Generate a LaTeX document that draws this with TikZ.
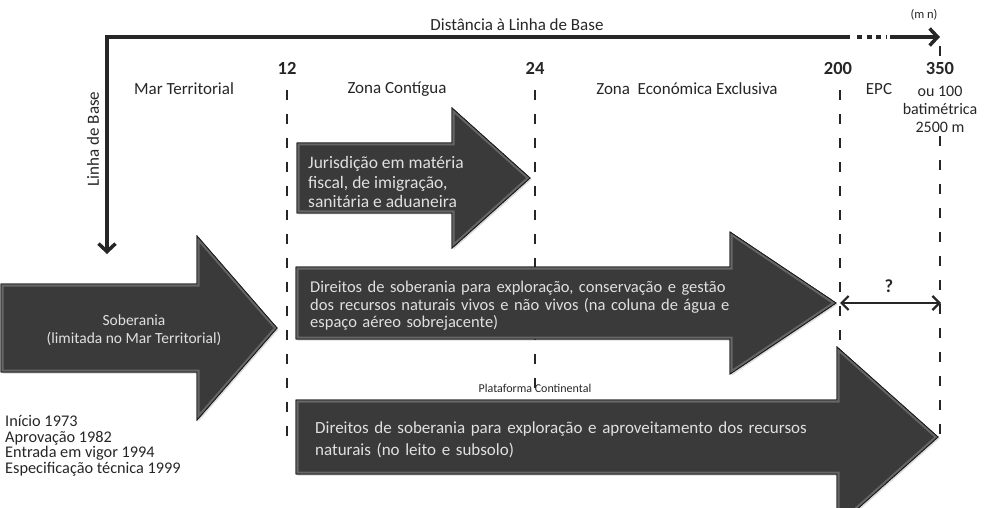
\documentclass[tikz,border=0pt]{standalone}
\usepackage{fontspec}
\setmainfont{Carlito}
\usepackage{tikz}
\usetikzlibrary{arrows.meta,shadows}
\definecolor{arrowfill}{HTML}{3A3A3A}
\colorlet{arrowband}{black!60}
\colorlet{arrowtextcolor}{white!88!black}
\colorlet{inkcolor}{black!85}
\setlength{\lineskiplimit}{-6pt}
\tikzstyle{bigarrow} = [
    fill=arrowfill,
    draw=black!90,
    line width=0.8pt,
    drop shadow={opacity=0.3, shadow xshift=1.5pt, shadow yshift=-1.5pt}
    ]
\tikzstyle{bevel} = [draw=arrowband, line width=5pt]
\tikzstyle{limit} = [draw=inkcolor, line width=2.6pt, dash pattern=on 10pt off 14pt]
\tikzstyle{baseaxis} = [draw=inkcolor, line width=3.5pt]
\tikzstyle{zone} = [font=\fontsize{17}{20}\selectfont, text=inkcolor, inner sep=0pt]
\tikzstyle{mile} = [font=\fontsize{18.5}{20}\selectfont\bfseries, text=inkcolor, inner sep=0pt]
\tikzstyle{inarrow} = [text=arrowtextcolor, inner sep=0pt, anchor=west]
\newcommand{\blockarrow}[6]{% left, head base, tip, middle, body half, head half
  \filldraw[bigarrow] (#1,#4-#5) -- (#2,#4-#5) -- (#2,#4-#6) -- (#3,#4) -- (#2,#4+#6) -- (#2,#4+#5) -- (#1,#4+#5) -- cycle;
  \begin{scope}
    \clip (#1,#4-#5) -- (#2,#4-#5) -- (#2,#4-#6) -- (#3,#4) -- (#2,#4+#6) -- (#2,#4+#5) -- (#1,#4+#5) -- cycle;
    \draw[bevel] (#1,#4-#5) -- (#2,#4-#5) -- (#2,#4-#6) -- (#3,#4) -- (#2,#4+#6) -- (#2,#4+#5) -- (#1,#4+#5) -- cycle;
  \end{scope}
  \draw[black!90, line width=0.8pt] (#1,#4-#5) -- (#2,#4-#5) -- (#2,#4-#6) -- (#3,#4) -- (#2,#4+#6) -- (#2,#4+#5) -- (#1,#4+#5) -- cycle;
}

\begin{document}
\begin{tikzpicture}[x=1pt, y=-1pt]
\useasboundingbox (0,0) rectangle (989,508);

% distance axis and base line
\coordinate (axisend) at (850,37);
\coordinate (origin) at (107,37);
\coordinate (baseline) at (107,254);
\coordinate (dotsA) at (857,37);
\coordinate (dotsB) at (886,37);
\coordinate (farA) at (890,37);
\coordinate (farB) at (940,37);
\draw[baseaxis, line join=miter, -{Straight Barb[length=8pt, width=17pt]}] (axisend) -- (origin) -- (baseline);
\draw[baseaxis, dash pattern=on 5pt off 4.5pt] (dotsA) -- (dotsB);
\draw[baseaxis, -{Straight Barb[length=8pt, width=17pt]}] (farA) -- (farB);
\node[zone] (dist) at (517,25) {Distância à Linha de Base};
\node[zone, font=\fontsize{12.5}{14}\selectfont] (mn) at (924,15) {(m n)};
\node[zone, rotate=90] (lbase) at (93,139) {Linha de Base};

% limits
\node[mile] (n12) at (287,68) {12};
\node[mile] (n24) at (535,68) {24};
\node[mile] (n200) at (838,68) {200};
\node[mile] (n350) at (940,68) {350};
\draw[limit] (287,90) -- (287,443);
\draw[limit] (535,90) -- (535,402);
\draw[limit] (840,90) -- (840,350);
\draw[limit] (940,136) -- (940,448);
\draw[limit] (940,46) -- (940,56);

% zones
\node[zone] (mar) at (184,89) {Mar Territorial};
\node[zone] (contigua) at (397,89) {Zona Contígua};
\node[zone] (zee) at (687,89) {Zona\ \ Económica Exclusiva};
\node[zone] (epc) at (879,89) {EPC};
\node[zone, font=\fontsize{16}{18}\selectfont, align=center] (isobath) at (940,109) {ou 100\\batimétrica\\2500 m};

% rights
\blockarrow{1}{197}{277}{328}{44}{92}
\blockarrow{297}{452}{530}{178}{35}{70}
\blockarrow{296}{730}{836}{303}{36}{71}
\blockarrow{296}{837}{938}{437}{37}{90}

\node[inarrow, font=\fontsize{15.5}{18}\selectfont, anchor=center, align=center] (soberania) at (134,330) {Soberania\\(limitada no Mar Territorial)};
\node[inarrow, font=\fontsize{17.5}{19.5}\selectfont, align=left] (jurisdicao) at (308,182) {Jurisdição em matéria\\fiscal, de imigração,\\sanitária e aduaneira};
\node[inarrow, font=\fontsize{16.5}{17.5}\selectfont, text width=455pt, align=left] (direitos) at (310,306) {\makebox[455pt][s]{Direitos de soberania para exploração, conservação e gestão}\\\makebox[455pt][s]{dos recursos naturais vivos e não vivos (na coluna de água e}\\espaço aéreo sobrejacente)};
\node[inarrow, font=\fontsize{17}{22}\selectfont, text width=517pt, align=left] (leito) at (315,440) {\makebox[517pt][s]{Direitos de soberania para exploração e aproveitamento dos recursos}\\naturais (no leito e subsolo)};

\node[zone, font=\fontsize{12}{14}\selectfont] (plataforma) at (535,388) {Plataforma Continental};

% outer continental shelf
\coordinate (q200) at (840,303);
\coordinate (q350) at (941,303);
\draw[draw=inkcolor, line width=2.2pt, {Straight Barb[length=7pt, width=14pt]}-{Straight Barb[length=7pt, width=14pt]}] (q200) -- (q350);
\node[mile] (question) at (889,286) {?};

% dates
\node[zone, font=\fontsize{16.3}{15.5}\selectfont, anchor=west, align=left] (dates) at (5,446) {Início 1973\\Aprovação 1982\\Entrada em vigor 1994\\Especificação técnica 1999};
\end{tikzpicture}
\end{document}
